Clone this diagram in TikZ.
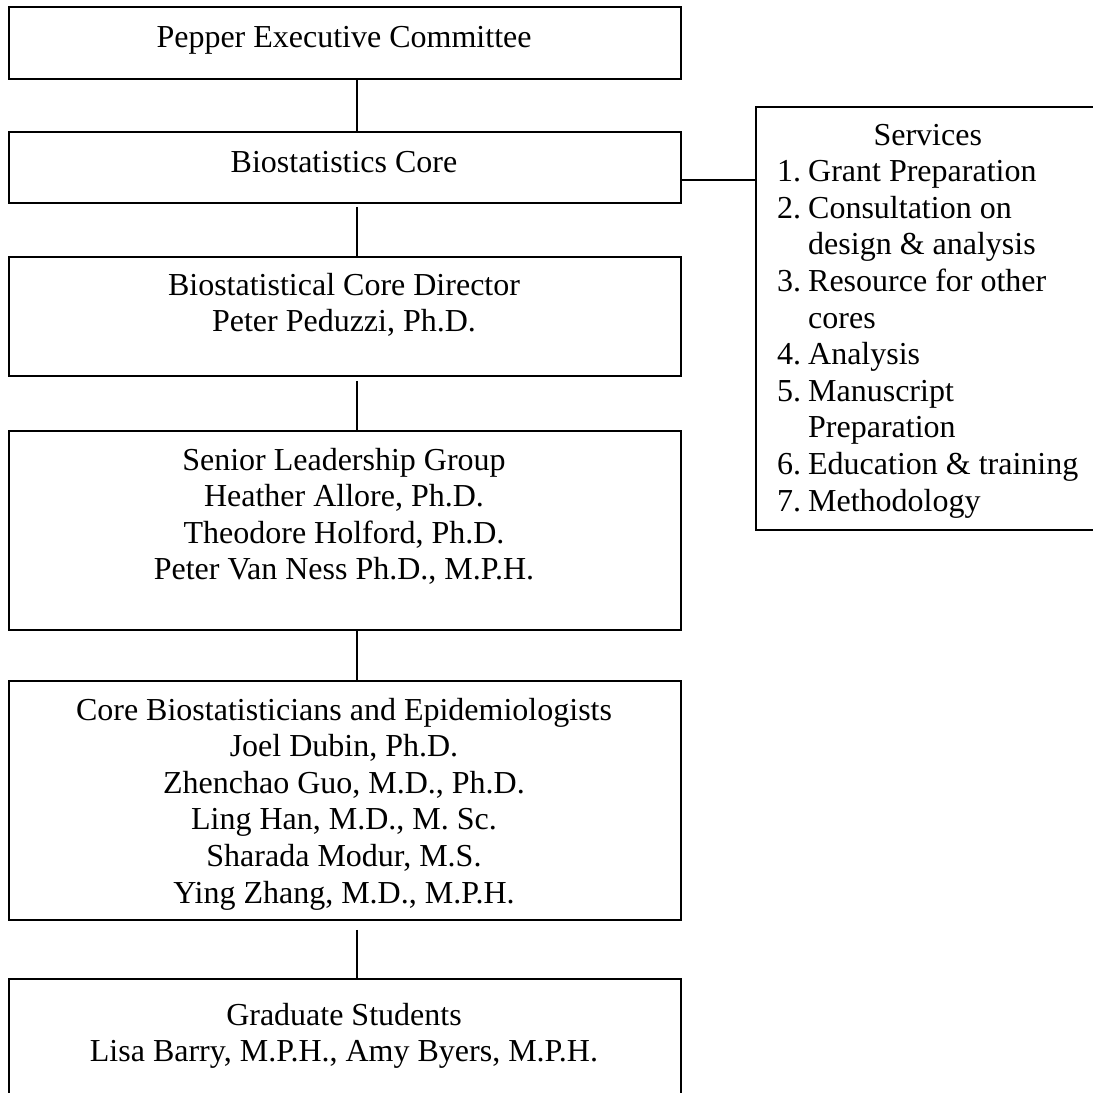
\documentclass[tikz,border=0pt]{standalone}
\usepackage{fontspec}
\setmainfont{Liberation Serif}
\begin{document}
\begin{tikzpicture}[x=1pt,y=-1pt,
  box/.style={draw, line width=1.8pt, rectangle, inner sep=0pt, anchor=north west},
  txt/.style={inner sep=0pt, anchor=base, font=\fontsize{32}{36.6}\selectfont},
  conn/.style={line width=1.4pt}]
\path[use as bounding box] (0,0) rectangle (1093,1093);
\clip (0,0) rectangle (1093,1093);
\fill[white] (0,0) rectangle (1093,1093);
% boxes
\node[box, minimum width=672pt, minimum height=72pt]  (b1) at (8,6) {};
\node[box, minimum width=672pt, minimum height=71pt]  (b2) at (8,131) {};
\node[box, minimum width=672pt, minimum height=119pt] (b3) at (8,256) {};
\node[box, minimum width=672pt, minimum height=199pt] (b4) at (8,430) {};
\node[box, minimum width=672pt, minimum height=239pt] (b5) at (8,680) {};
\node[box, minimum width=672pt, minimum height=150pt] (b6) at (8,978) {};
\node[box, minimum width=355pt, minimum height=423pt] (svc) at (755,106) {};
% texts
\node[txt] (t1) at (344,47) {Pepper Executive Committee};
\node[txt] (t2) at (344,172) {Biostatistics Core};
\node[txt] (t3) at (344,295) {\begin{tabular}[t]{@{}c@{}}Biostatistical Core Director\\Peter Peduzzi, Ph.D.\end{tabular}};
\node[txt] (t4) at (344,470) {\begin{tabular}[t]{@{}c@{}}Senior Leadership Group\\Heather Allore, Ph.D.\\Theodore Holford, Ph.D.\\Peter Van Ness Ph.D., M.P.H.\end{tabular}};
\node[txt] (t5) at (344,720) {\begin{tabular}[t]{@{}c@{}}Core Biostatisticians and Epidemiologists\\Joel Dubin, Ph.D.\\Zhenchao Guo, M.D., Ph.D.\\Ling Han, M.D., M. Sc.\\Sharada Modur, M.S.\\Ying Zhang, M.D., M.P.H.\end{tabular}};
\node[txt] (t6) at (344,1025) {\begin{tabular}[t]{@{}c@{}}Graduate Students\\Lisa Barry, M.P.H., Amy Byers, M.P.H.\end{tabular}};
\node[txt, anchor=base west] (tsvc) at (777,145) {\begin{tabular}[t]{@{}l@{}l@{}}\multicolumn{2}{c}{Services}\\
\makebox[31pt][l]{1.}&Grant Preparation\\
\makebox[31pt][l]{2.}&Consultation on\\
&design \& analysis\\
\makebox[31pt][l]{3.}&Resource for other\\
&cores\\
\makebox[31pt][l]{4.}&Analysis\\
\makebox[31pt][l]{5.}&Manuscript\\
&Preparation\\
\makebox[31pt][l]{6.}&Education \& training\\
\makebox[31pt][l]{7.}&Methodology\end{tabular}};
% connectors
\coordinate (vx) at (357,0);
\draw[conn] (b1.south -| vx) -- (b2.north -| vx);
\draw[conn, shorten <=3pt] (b2.south -| vx) -- (b3.north -| vx);
\draw[conn, shorten <=4pt] (b3.south -| vx) -- (b4.north -| vx);
\draw[conn] (b4.south -| vx) -- (b5.north -| vx);
\draw[conn, shorten <=9pt] (b5.south -| vx) -- (b6.north -| vx);
\coordinate (j) at ([yshift=-12.5pt]b2.east);
\draw[conn] (j) -- (j -| svc.west);
\end{tikzpicture}
\end{document}
